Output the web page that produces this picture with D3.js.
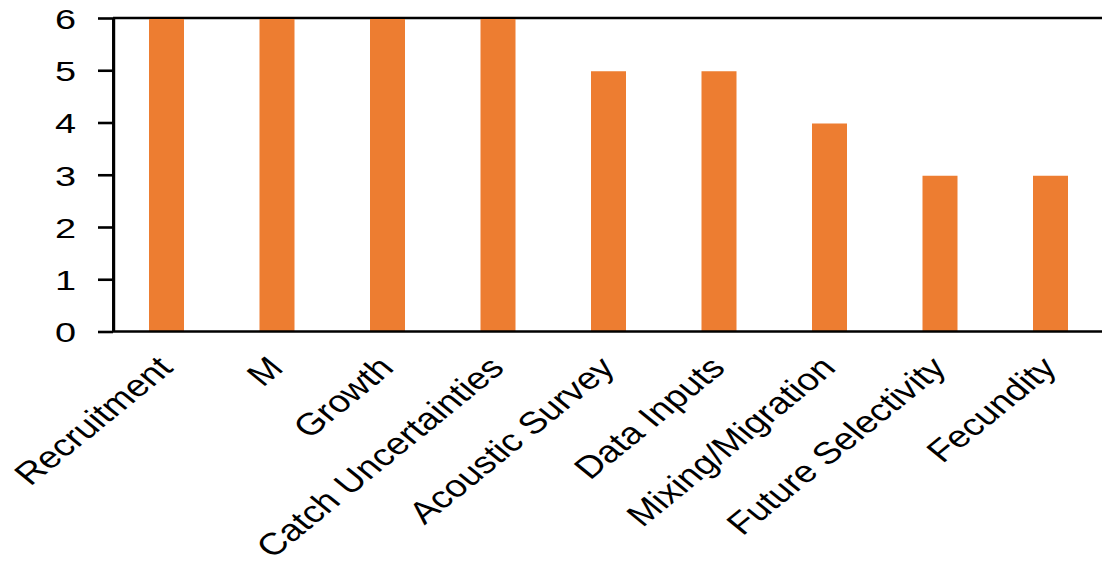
<!DOCTYPE html>
<html>
<head>
<meta charset="utf-8">
<script src="https://cdn.jsdelivr.net/npm/d3@7"></script>
<style>
  html, body { margin: 0; padding: 0; background: #fff; }
  svg { display: block; }
  text { font-family: "Liberation Sans", Arial, sans-serif; }
</style>
</head>
<body>
<svg id="chart" width="1102" height="566"></svg>
<script>
const categories = ["Recruitment", "M", "Growth", "Catch Uncertainties", "Acoustic Survey",
                    "Data Inputs", "Mixing/Migration", "Future Selectivity", "Fecundity"];
const values = [6, 6, 6, 6, 5, 5, 4, 3, 3];
const yTicks = [0, 1, 2, 3, 4, 5, 6];

const SX = 1.23;           // horizontal stretch of the original picture
const TICK_SX = 1.08;      // tick labels look a little wider still
const TICK_FONT = 28.5;
const LABEL_FONT = 30.8;
const barColor = "#ED7D31";
const lw = 2.6;

const svg = d3.select("#chart");
const g = svg.append("g").attr("transform", `scale(${SX},1)`);

const pInner = 1 - 35 / 110.5;
const x = d3.scaleBand()
  .domain(categories)
  .range([111.25 / SX, 1105.75 / SX])
  .paddingInner(pInner)
  .paddingOuter(pInner / 2);

const y = d3.scaleLinear().domain([0, 6]).range([331.5, 18]);

const axisX = 113 / SX;

// top line at max value
g.append("line")
  .attr("x1", axisX).attr("x2", x.range()[1] + 5)
  .attr("y1", y(6)).attr("y2", y(6))
  .attr("stroke", "#000").attr("stroke-width", lw);

// bars
g.selectAll("rect.bar")
  .data(values)
  .join("rect")
  .attr("class", "bar")
  .attr("x", (d, i) => x(categories[i]))
  .attr("width", x.bandwidth())
  .attr("y", d => y(d) + 1)
  .attr("height", d => y(0) - y(d) - 1)
  .attr("fill", barColor);

// y axis
const yAxis = g.append("g")
  .attr("transform", `translate(${axisX},0)`)
  .call(d3.axisLeft(y).tickValues(yTicks).tickFormat(d3.format("d"))
        .tickSize(15 / SX).tickSizeOuter(0).tickPadding(22 / SX));
yAxis.select(".domain").attr("stroke", "#000").attr("stroke-width", lw);
yAxis.selectAll(".tick line").attr("stroke", "#000").attr("stroke-width", lw);
yAxis.selectAll(".tick text")
  .attr("font-size", TICK_FONT)
  .attr("fill", "#000")
  .attr("x", null)
  .attr("dy", "0.36em")
  .attr("transform", `translate(${-(15 + 22) / SX},0) scale(${TICK_SX},1)`)
  .style("font-family", '"Liberation Sans", Arial, sans-serif');

// x axis
const xAxis = g.append("g")
  .attr("transform", `translate(0,${y(0)})`)
  .call(d3.axisBottom(x).tickSize(0).tickSizeOuter(0).tickPadding(0));
xAxis.select(".domain")
  .attr("d", `M${axisX},0H${x.range()[1] + 5}`)
  .attr("stroke", "#000").attr("stroke-width", lw);
xAxis.selectAll(".tick text")
  .attr("font-size", LABEL_FONT)
  .attr("fill", "#000")
  .attr("text-anchor", "end")
  .attr("x", null).attr("y", null).attr("dy", null)
  .attr("transform", `translate(${8 / SX},${369.5 - 331.5}) rotate(-45)`)
  .style("font-family", '"Liberation Sans", Arial, sans-serif');
</script>
</body>
</html>
